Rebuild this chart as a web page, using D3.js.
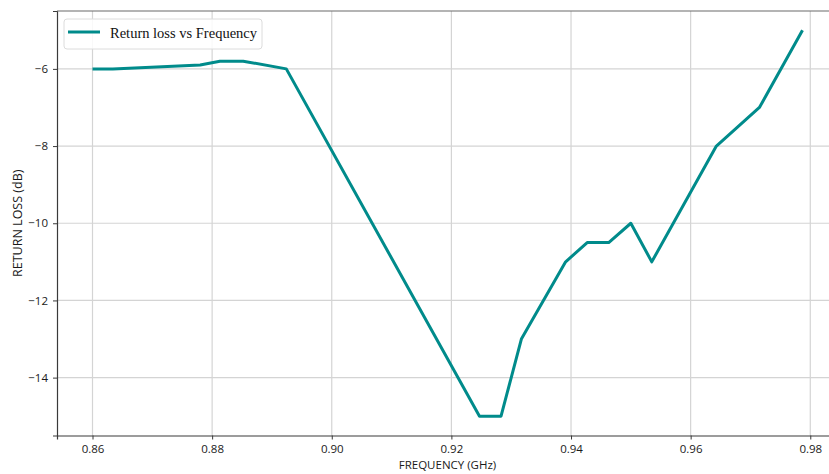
<!DOCTYPE html>
<html>
<head>
<meta charset="utf-8">
<script src="https://cdn.jsdelivr.net/npm/d3@7"></script>
<style>
  body { margin: 0; background: #fff; }
  svg { display: block; }
</style>
</head>
<body>
<div id="chart"></div>
<script>
// DATA
var frequency = [0.86, 0.8634, 0.878, 0.8813, 0.8852, 0.8924, 0.9247, 0.9283, 0.9317,
  0.9391, 0.9427, 0.9463, 0.95, 0.9535, 0.9643, 0.9715, 0.9787];
var returnLoss = [-6, -6, -5.9, -5.8, -5.8, -6, -15, -15, -13,
  -11, -10.5, -10.5, -10, -11, -8, -7, -5];
var xTicks = [0.86, 0.88, 0.9, 0.92, 0.94, 0.96, 0.98];
var yTicks = [-14, -12, -10, -8, -6];
var seriesName = "Return loss vs Frequency";

var width = 829,
  height = 474;
// plot box (right side runs past the picture edge, as in the original)
var plotLeft = 57,
  plotRight = 838,
  plotTop = 11,
  plotBottom = 435.5;

const svg = d3.select("#chart").append("svg")
  .attr("width", width)
  .attr("height", height);

var points = frequency.map(function (f, i) {
  return { freq: f, loss: returnLoss[i] };
});

// matplotlib style 5% margins
var xExt = d3.extent(frequency), yExt = d3.extent(returnLoss);
var xPad = (xExt[1] - xExt[0]) * 0.05, yPad = (yExt[1] - yExt[0]) * 0.05;

var xScale = d3.scaleLinear().domain([xExt[0] - xPad, xExt[1] + xPad]).range([plotLeft, plotRight]),
  yScale = d3.scaleLinear().domain([yExt[0] - yPad, yExt[1] + yPad]).range([plotBottom, plotTop]);

var tickFont = "'Open Sans', 'DejaVu Sans', sans-serif";

// grid
svg.append("g")
  .selectAll("line")
  .data(xTicks)
  .enter()
  .append("line")
  .attr("x1", function (d) { return xScale(d); })
  .attr("x2", function (d) { return xScale(d); })
  .attr("y1", plotTop)
  .attr("y2", plotBottom)
  .attr("stroke", "#d4d4d4")
  .attr("stroke-width", 1.2);

svg.append("g")
  .selectAll("line")
  .data(yTicks)
  .enter()
  .append("line")
  .attr("x1", plotLeft)
  .attr("x2", plotRight)
  .attr("y1", function (d) { return yScale(d); })
  .attr("y2", function (d) { return yScale(d); })
  .attr("stroke", "#d4d4d4")
  .attr("stroke-width", 1.2);

// axes
var xAxis = svg.append("g")
  .attr("transform", "translate(0," + plotBottom + ")")
  .call(d3.axisBottom(xScale).tickValues(xTicks).tickFormat(d3.format(".2f")).tickSizeOuter(0).tickSize(4).tickPadding(5));

var yAxis = svg.append("g")
  .attr("transform", "translate(" + plotLeft + ",0)")
  .call(d3.axisLeft(yScale).tickValues(yTicks).tickFormat(d3.format("d")).tickSizeOuter(0).tickSize(4).tickPadding(5));

[xAxis, yAxis].forEach(function (a) {
  a.select(".domain").attr("stroke", "#3a3a3a").attr("stroke-width", 1.2);
  a.selectAll(".tick line").attr("stroke", "#3a3a3a");
  a.selectAll(".tick text")
    .attr("fill", "#1a1a1a")
    .style("font-family", tickFont)
    .style("font-size", "11.5px");
});

// top spine
svg.append("line")
  .attr("x1", plotLeft)
  .attr("x2", plotRight)
  .attr("y1", plotTop)
  .attr("y2", plotTop)
  .attr("stroke", "#6a6a6a")
  .attr("stroke-width", 1.2);

// axis labels
svg.append("text")
  .attr("x", (plotLeft + plotRight) / 2)
  .attr("y", 469)
  .attr("text-anchor", "middle")
  .attr("fill", "#1a1a1a")
  .style("font-family", tickFont)
  .style("font-size", "11.5px")
  .text("FREQUENCY (GHz)");

svg.append("text")
  .attr("transform", "translate(22," + (plotTop + plotBottom) / 2 + ") rotate(-90)")
  .attr("text-anchor", "middle")
  .attr("fill", "#1a1a1a")
  .style("font-family", tickFont)
  .style("font-size", "12.5px")
  .text("RETURN LOSS (dB)");

// the curve
var line = d3.line()
  .x(function (d) { return xScale(d.freq); })
  .y(function (d) { return yScale(d.loss); });

svg.append("path")
  .datum(points)
  .attr("d", line)
  .attr("fill", "none")
  .attr("stroke", "#008b8b")
  .attr("stroke-width", 3)
  .attr("stroke-linejoin", "round");

// legend
var legend = svg.append("g").attr("transform", "translate(64,19)");
legend.append("rect")
  .attr("width", 198)
  .attr("height", 30)
  .attr("rx", 3)
  .attr("fill", "#fff")
  .attr("fill-opacity", 0.85)
  .attr("stroke", "#dcdcdc");
legend.append("line")
  .attr("x1", 4)
  .attr("x2", 36)
  .attr("y1", 13)
  .attr("y2", 13)
  .attr("stroke", "#008b8b")
  .attr("stroke-width", 3);
legend.append("text")
  .attr("x", 46)
  .attr("y", 19)
  .attr("fill", "#111")
  .style("font-family", "'Liberation Serif', 'Times New Roman', serif")
  .style("font-size", "14.5px")
  .text(seriesName);
</script>
</body>
</html>
